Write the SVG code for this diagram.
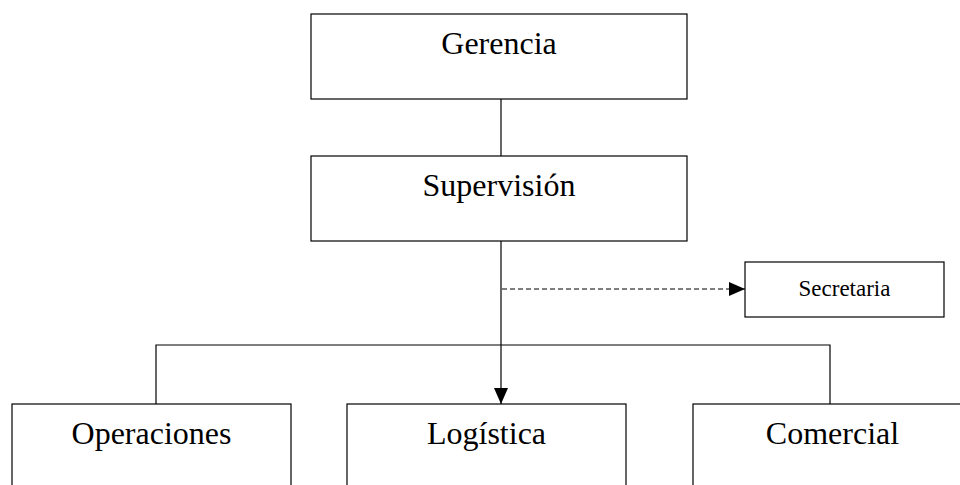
<svg xmlns="http://www.w3.org/2000/svg" width="960" height="485" viewBox="0 0 960 485">
<style>
.box{fill:#fff;stroke:#000;stroke-width:1.2}
.t{font-family:"Liberation Serif","Times New Roman",serif;fill:#000;text-anchor:middle}
.big{font-size:32px}
.small{font-size:23px}
.ln{fill:none;stroke:#000;stroke-width:1.2}
.dash{stroke-dasharray:5 3}
</style>
<defs>
<marker id="ah" viewBox="0 0 16 16" refX="16" refY="8" markerWidth="16" markerHeight="16" markerUnits="userSpaceOnUse" orient="auto">
<path d="M0,1 L16,8 L0,15 Z" fill="#000"/>
</marker>
</defs>
<rect width="960" height="485" fill="#fff"/>
<g id="connectors">
<line class="ln" x1="501" y1="99" x2="501" y2="156"/>
<line class="ln" x1="501" y1="241" x2="501" y2="404" marker-end="url(#ah)"/>
<line class="ln dash" x1="502" y1="289" x2="745" y2="289" marker-end="url(#ah)"/>
<polyline class="ln" points="156,404 156,345 830,345 830,404"/>
</g>
<g id="gerencia">
<rect class="box" x="311" y="14" width="376" height="85"/>
<text class="t big" x="499" y="54">Gerencia</text>
</g>
<g id="supervision">
<rect class="box" x="311" y="156" width="376" height="85"/>
<text class="t big" x="499" y="196">Supervisión</text>
</g>
<g id="secretaria">
<rect class="box" x="745" y="262" width="199" height="55"/>
<text class="t small" x="844.5" y="296">Secretaria</text>
</g>
<g id="operaciones">
<rect class="box" x="12" y="404" width="279" height="100"/>
<text class="t big" x="151.5" y="444">Operaciones</text>
</g>
<g id="logistica">
<rect class="box" x="347" y="404" width="279" height="100"/>
<text class="t big" x="486.5" y="444">Logística</text>
</g>
<g id="comercial">
<rect class="box" x="693" y="404" width="279" height="100"/>
<text class="t big" x="832.5" y="444">Comercial</text>
</g>
</svg>
